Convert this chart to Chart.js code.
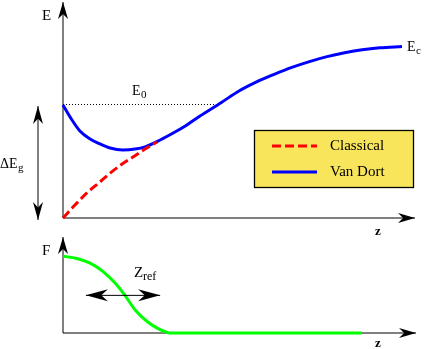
<!DOCTYPE html>
<html>
<head>
<meta charset="UTF-8">
<title>Van Dort</title>
<style>
  body { margin: 0; background: #fff; }
  #wrap { position: relative; width: 424px; height: 349px; }
  canvas { position: absolute; left: 0; }
  #top { top: 0; }
  #bot { top: 236px; }
</style>
</head>
<body>
<div id="wrap">
  <canvas id="top" width="424" height="240"></canvas>
  <canvas id="bot" width="424" height="113"></canvas>
</div>
<script src="https://cdn.jsdelivr.net/npm/chart.js"></script>
<script>
// top panel: band edge E(z)
const vanDortZ = [0, 0.20, 0.48, 0.77, 1.05, 1.34, 1.70, 2.05, 2.33, 2.76, 3.18, 3.52, 3.89, 4.5, 5.0, 5.5, 6.0, 6.5, 7.0, 7.5, 8.0, 8.5, 9.0, 9.63];
const vanDortE = [5.23, 4.68, 4.03, 3.66, 3.43, 3.24, 3.15, 3.19, 3.29, 3.61, 3.98, 4.31, 4.72, 5.35, 5.88, 6.30, 6.65, 6.97, 7.24, 7.47, 7.65, 7.79, 7.88, 7.94];
const classicalZ = [0, 0.34, 0.68, 1.05, 1.34, 1.68, 1.99, 2.33, 2.67];
const classicalE = [0, 0.60, 1.16, 1.67, 2.08, 2.50, 2.82, 3.19, 3.52];
const seriesNames = ['Classical', 'Van Dort'];

// bottom panel: F(z)
const fZ = [0, 0.39, 0.77, 1.14, 1.48, 1.76, 2.05, 2.39, 2.73, 3.04, 8.49];
const fVal = [1.0, 0.97, 0.91, 0.80, 0.65, 0.49, 0.30, 0.15, 0.05, 0, 0];

const zMax = 10;     // arrow tip of z axis
const eMax = 10;     // arrow tip of E axis
const fMax = 1.25;   // arrow tip of F axis
const e0 = vanDortE[0];
const e0End = 4.45;  // where the dotted E0 line meets the curve
const zRefFrom = 0.65, zRefTo = 2.76, zRefLevel = 0.49;

function pts(xs, ys) { return xs.map((x, i) => ({ x: x, y: ys[i] })); }

const serif = '"Liberation Serif", "DejaVu Serif", serif';

function arrowHead(ctx, x1, y1, x2, y2, len, hw) {
  const a = Math.atan2(y2 - y1, x2 - x1);
  const c = Math.cos(a), s = Math.sin(a);
  const bx = x2 - c * len, by = y2 - s * len;
  const nx = x2 - c * len * 0.7, ny = y2 - s * len * 0.7;
  ctx.beginPath();
  ctx.moveTo(x2, y2);
  ctx.lineTo(bx - s * hw, by + c * hw);
  ctx.lineTo(nx, ny);
  ctx.lineTo(bx + s * hw, by - c * hw);
  ctx.closePath();
  ctx.fill();
}

function arrow(ctx, x1, y1, x2, y2, both, len, hw) {
  len = len || 17; hw = hw || 5;
  ctx.beginPath();
  ctx.moveTo(x1, y1);
  ctx.lineTo(x2, y2);
  ctx.stroke();
  arrowHead(ctx, x1, y1, x2, y2, len, hw);
  if (both) arrowHead(ctx, x2, y2, x1, y1, len, hw);
}

function text(ctx, str, x, y, size) {
  ctx.font = size + 'px ' + serif;
  ctx.fillText(str, x, y);
}

const topDeco = {
  id: 'topDeco',
  beforeDatasetsDraw(chart) {
    const ctx = chart.ctx, xs = chart.scales.x, ys = chart.scales.y;
    const x0 = xs.getPixelForValue(0), y0 = ys.getPixelForValue(0);
    ctx.save();
    ctx.strokeStyle = '#000'; ctx.fillStyle = '#000'; ctx.lineWidth = 1;
    arrow(ctx, x0, y0, x0, ys.getPixelForValue(eMax));
    arrow(ctx, x0, y0, xs.getPixelForValue(zMax), y0);
    // dotted E0 level
    ctx.setLineDash([1, 2]);
    ctx.beginPath();
    ctx.moveTo(x0, ys.getPixelForValue(e0) - 0.5);
    ctx.lineTo(xs.getPixelForValue(e0End), ys.getPixelForValue(e0) - 0.5);
    ctx.stroke();
    ctx.setLineDash([]);
    // delta Eg
    arrow(ctx, x0 - 25, ys.getPixelForValue(e0) + 1, x0 - 25, y0 + 2, true, 18, 5);
    ctx.restore();
  },
  afterDatasetsDraw(chart) {
    const ctx = chart.ctx, xs = chart.scales.x, ys = chart.scales.y;
    const x0 = xs.getPixelForValue(0), y0 = ys.getPixelForValue(0);
    ctx.save();
    ctx.fillStyle = '#000';
    ctx.textBaseline = 'alphabetic';
    text(ctx, 'E', x0 - 21, 20, 15);
    text(ctx, 'E', 132, 95, 14);
    text(ctx, '0', 141, 98, 11);
    text(ctx, '\u0394E', 0, 168, 14);
    text(ctx, 'g', 18, 171, 11);
    text(ctx, 'E', 407, 51, 14);
    text(ctx, 'c', 416, 54, 11);
    ctx.font = 'bold 13px ' + serif;
    ctx.fillText('z', 375, 235);
    // legend box
    const bx = 254, by = 130, bw = 159, bh = 57;
    ctx.fillStyle = '#f9e55b';
    ctx.fillRect(bx, by, bw, bh);
    ctx.strokeStyle = '#000'; ctx.lineWidth = 1.3;
    ctx.strokeRect(bx + 0.5, by + 0.5, bw, bh);
    const order = [0, 1];
    const rows = [146, 172];
    order.forEach((di, k) => {
      const ds = chart.data.datasets[di];
      ctx.strokeStyle = ds.borderColor;
      ctx.lineWidth = 3;
      ctx.setLineDash(ds.borderDash || []);
      ctx.beginPath();
      ctx.moveTo(272, rows[k]);
      ctx.lineTo(317, rows[k]);
      ctx.stroke();
      ctx.setLineDash([]);
      ctx.fillStyle = '#000';
      ctx.textBaseline = 'middle';
      text(ctx, ds.label, 330, rows[k], 15);
    });
    ctx.restore();
  }
};

const botDeco = {
  id: 'botDeco',
  beforeDatasetsDraw(chart) {
    const ctx = chart.ctx, xs = chart.scales.x, ys = chart.scales.y;
    const x0 = xs.getPixelForValue(0), y0 = ys.getPixelForValue(0);
    ctx.save();
    ctx.strokeStyle = '#000'; ctx.fillStyle = '#000'; ctx.lineWidth = 1;
    arrow(ctx, x0, y0, x0, ys.getPixelForValue(fMax));
    arrow(ctx, x0, y0, xs.getPixelForValue(zMax) + 1, y0);
    ctx.restore();
  },
  afterDatasetsDraw(chart) {
    const ctx = chart.ctx, xs = chart.scales.x, ys = chart.scales.y;
    const x0 = xs.getPixelForValue(0);
    ctx.save();
    ctx.strokeStyle = '#000'; ctx.fillStyle = '#000'; ctx.lineWidth = 1;
    const yr = ys.getPixelForValue(zRefLevel);
    arrow(ctx, xs.getPixelForValue(zRefFrom), yr, xs.getPixelForValue(zRefTo), yr, true, 22, 6);
    text(ctx, 'F', x0 - 21, 19, 15);
    text(ctx, 'Z', 134, 41, 15);
    text(ctx, 'ref', 143, 44, 12);
    ctx.font = 'bold 13px ' + serif;
    ctx.fillText('z', 375, 111);
    ctx.restore();
  }
};

const common = {
  responsive: false,
  animation: false,
  events: [],
  plugins: { legend: { display: false }, tooltip: { enabled: false } },
  elements: { point: { radius: 0 } }
};

new Chart(document.getElementById('top'), {
  type: 'scatter',
  data: {
    datasets: [{
      label: seriesNames[0],
      data: pts(classicalZ, classicalE),
      showLine: true,
      borderColor: '#ff0000',
      borderWidth: 3,
      borderDash: [9, 4],
      cubicInterpolationMode: 'monotone',
      clip: false
    }, {
      label: seriesNames[1],
      data: pts(vanDortZ, vanDortE),
      showLine: true,
      borderColor: '#0000ff',
      borderWidth: 3,
      cubicInterpolationMode: 'monotone',
      clip: false
    }]
  },
  options: Object.assign({}, common, {
    layout: { padding: { left: 63, right: 9, top: 2, bottom: 22 } },
    scales: {
      x: { type: 'linear', min: 0, max: zMax, display: false },
      y: { type: 'linear', min: 0, max: eMax, display: false }
    }
  }),
  plugins: [topDeco]
});

new Chart(document.getElementById('bot'), {
  type: 'scatter',
  data: {
    datasets: [{
      label: 'F',
      data: pts(fZ, fVal),
      showLine: true,
      borderColor: '#00ff00',
      borderWidth: 3,
      cubicInterpolationMode: 'monotone',
      clip: false
    }]
  },
  options: Object.assign({}, common, {
    layout: { padding: { left: 63, right: 9, top: 1, bottom: 16 } },
    scales: {
      x: { type: 'linear', min: 0, max: zMax, display: false },
      y: { type: 'linear', min: 0, max: fMax, display: false }
    }
  }),
  plugins: [botDeco]
});
</script>
</body>
</html>
